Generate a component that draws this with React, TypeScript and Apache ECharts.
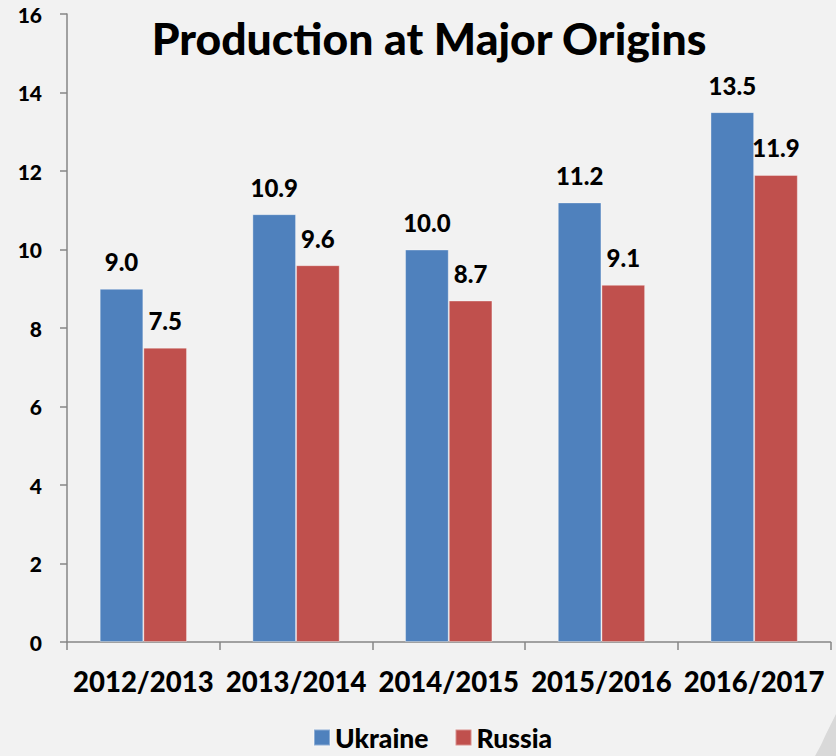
import React, { useEffect, useRef } from "react";
import * as echarts from "echarts";

const categories = ["2012/2013", "2013/2014", "2014/2015", "2015/2016", "2016/2017"];
const ukraine = [9.0, 10.9, 10.0, 11.2, 13.5];
const russia = [7.5, 9.6, 8.7, 9.1, 11.9];
const seriesNames = ["Ukraine", "Russia"];
const titleText = "Production at Major Origins";

const FONT = "Lato, 'Noto Sans', sans-serif";
const W = 900;

export default function App() {
  const ref = useRef<HTMLDivElement>(null);
  useEffect(() => {
    document.body.style.margin = "0";
    const chart = echarts.init(ref.current!, null, { renderer: "svg" });
    const labelStyle = {
      show: true,
      position: "top" as const,
      distance: 15,
      formatter: (p: any) => Number(p.value).toFixed(1),
      fontFamily: FONT,
      fontWeight: W as any,
      fontSize: 24,
      color: "#000",
    };
    chart.setOption({
      animation: false,
      backgroundColor: "#f2f2f2",
      textStyle: { fontFamily: FONT },
      title: {
        text: titleText,
        left: 424,
        textAlign: "center",
        top: 10,
        textStyle: { fontFamily: FONT, fontWeight: W, fontSize: 44.5, color: "#000" },
      },
      legend: {
        data: seriesNames,
        bottom: 0,
        left: 308,
        itemWidth: 16,
        itemHeight: 16,
        itemGap: 26,
        icon: "rect",
        textStyle: { fontFamily: FONT, fontWeight: W, fontSize: 26.5, color: "#000" },
      },
      grid: { left: 67, top: 14, right: 5.5, bottom: 114, containLabel: false },
      xAxis: {
        type: "category",
        data: categories,
        axisLine: { lineStyle: { color: "#868686", width: 1.5 } },
        axisTick: { show: true, length: 8, lineStyle: { color: "#868686", width: 1.5 } },
        axisLabel: {
          margin: 25,
          fontFamily: FONT,
          fontWeight: W,
          fontSize: 27.5,
          color: "#000",
          interval: 0,
        },
      },
      yAxis: {
        type: "value",
        min: 0,
        max: 16,
        interval: 2,
        splitLine: { show: false },
        axisLine: { show: true, lineStyle: { color: "#868686", width: 1.5 } },
        axisTick: { show: true, length: 7, lineStyle: { color: "#868686", width: 1.5 } },
        axisLabel: {
          margin: 25,
          fontFamily: FONT,
          fontWeight: W,
          fontSize: 21,
          color: "#000",
        },
      },
      graphic: [
        {
          type: "polygon",
          z: -1,
          silent: true,
          shape: {
            points: [
              [836, 714],
              [831, 724],
              [826, 734],
              [821, 745],
              [815, 756],
              [836, 756],
            ],
          },
          style: { fill: "#d9d9d9" },
        },
      ],
      series: [
        {
          name: seriesNames[0],
          type: "bar",
          data: ukraine,
          barGap: "0%",
          barCategoryGap: "42.8%",
          itemStyle: { color: "#4f81bd", borderColor: "rgba(255,255,255,0.35)", borderWidth: 1 },
          label: labelStyle,
        },
        {
          name: seriesNames[1],
          type: "bar",
          data: russia,
          barGap: "0%",
          barCategoryGap: "42.8%",
          itemStyle: { color: "#c0504d", borderColor: "rgba(255,255,255,0.35)", borderWidth: 1 },
          label: labelStyle,
        },
      ],
    });
    return () => chart.dispose();
  }, []);
  return <div ref={ref} style={{ width: 836, height: 756 }} />;
}
